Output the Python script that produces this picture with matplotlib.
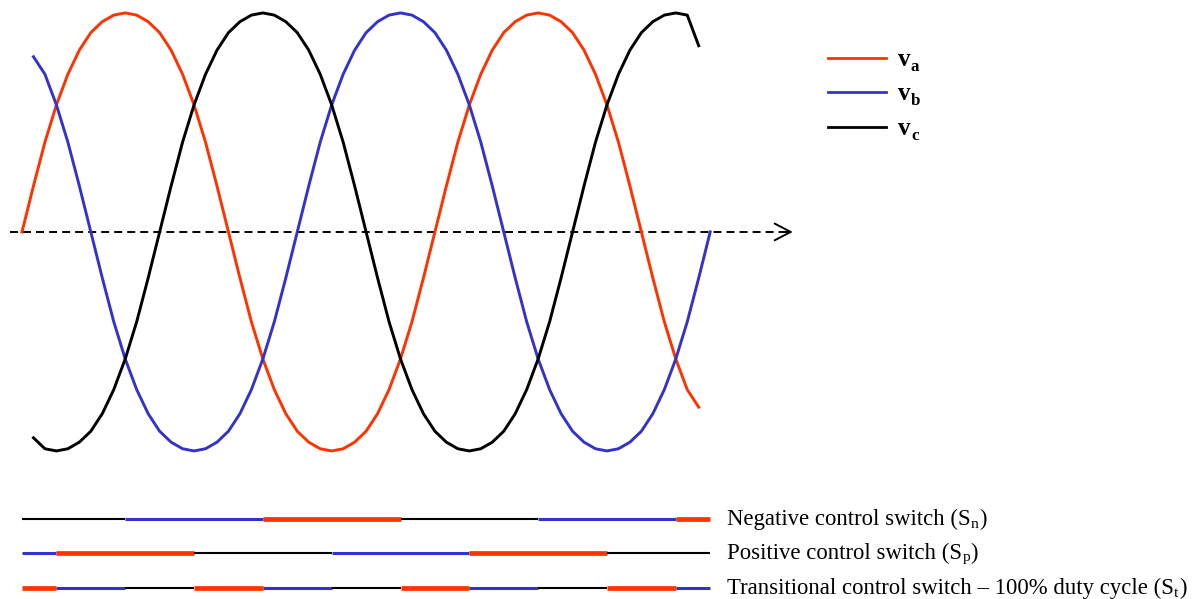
import numpy as np
import matplotlib.pyplot as plt

plt.rcParams['font.family'] = 'Liberation Serif'

RED = '#ff3300'
BLUE = '#3333cc'
BLACK = '#000000'

# phase voltages in per unit, sampled every 10 electrical degrees
theta_a = np.arange(0, 600, 10)
v_a = [0, .21, .41, .58, .72, .83, .91, .96, .99, 1, .99, .96, .91, .83, .72, .58, .41, .21,
       0, -.21, -.41, -.58, -.72, -.83, -.91, -.96, -.99, -1, -.99, -.96, -.91, -.83, -.72, -.58, -.41, -.21,
       0, .21, .41, .58, .72, .83, .91, .96, .99, 1, .99, .96, .91, .83, .72, .58, .41, .21,
       0, -.21, -.41, -.58, -.72, -.80]

theta_b = np.arange(10, 610, 10)
v_b = [.80, .72, .58, .41, .21,
       0, -.21, -.41, -.58, -.72, -.83, -.91, -.96, -.99, -1, -.99, -.96, -.91, -.83, -.72, -.58, -.41, -.21,
       0, .21, .41, .58, .72, .83, .91, .96, .99, 1, .99, .96, .91, .83, .72, .58, .41, .21,
       0, -.21, -.41, -.58, -.72, -.83, -.91, -.96, -.99, -1, -.99, -.96, -.91, -.83, -.72, -.58, -.41, -.21,
       0]

theta_c = np.arange(10, 600, 10)
v_c = [-.94, -.99, -1, -.99, -.96, -.91, -.83, -.72, -.58, -.41, -.21,
       0, .21, .41, .58, .72, .83, .91, .96, .99, 1, .99, .96, .91, .83, .72, .58, .41, .21,
       0, -.21, -.41, -.58, -.72, -.83, -.91, -.96, -.99, -1, -.99, -.96, -.91, -.83, -.72, -.58, -.41, -.21,
       0, .21, .41, .58, .72, .83, .91, .96, .99, 1, .99, .85]

# which phase each switch follows: (start deg, end deg, phase)
sn_segments = [(0, 90, 'c'), (90, 210, 'b'), (210, 330, 'a'), (330, 450, 'c'),
               (450, 570, 'b'), (570, 600, 'a')]
sp_segments = [(0, 30, 'b'), (30, 150, 'a'), (150, 270, 'c'), (270, 390, 'b'),
               (390, 510, 'a'), (510, 600, 'c')]
st_segments = [(0, 30, 'a'), (30, 90, 'b'), (90, 150, 'c'), (150, 210, 'a'),
               (210, 270, 'b'), (270, 330, 'c'), (330, 390, 'a'), (390, 450, 'b'),
               (450, 510, 'c'), (510, 570, 'a'), (570, 600, 'b')]

switch_labels = ['Negative control switch (S',
                 'Positive control switch (S',
                 'Transitional control switch – 100% duty cycle (S']
switch_subs = ['n', 'p', 't']

phase_color = {'a': RED, 'b': BLUE, 'c': BLACK}
phase_width = {'a': 3.4, 'b': 2.2, 'c': 1.5}

fig = plt.figure(figsize=(12.02, 5.99), dpi=100)
ax = fig.add_axes([0, 0, 1, 1])
ax.set_xlim(-19.18, 1028.77)
ax.set_ylim(-1.676, 1.059)
ax.axis('off')
renderer = fig.canvas.get_renderer()

# time axis with open arrow head
ax.plot([-10.5, 670], [0, 0], color=BLACK, lw=1.4, dashes=(4.1, 2.6))
ax.annotate('', xy=(672, 0), xytext=(664, 0),
            arrowprops=dict(arrowstyle='->,head_length=1.15,head_width=0.6',
                            lw=1.4, color=BLACK, mutation_scale=10,
                            shrinkA=0, shrinkB=0))

ax.plot(theta_a, v_a, color=RED, lw=2.1)
ax.plot(theta_b, v_b, color=BLUE, lw=2.1)
ax.plot(theta_c, v_c, color=BLACK, lw=2.1)


def label_with_sub(x, y, main, sub, size, weight='normal', drop=2.0, close=True):
    # main text, then a small lowered subscript and optional closing bracket
    t = ax.text(x, y, main, fontsize=size, fontweight=weight, va='baseline', ha='left')
    w = t.get_window_extent(renderer).width * 72 / fig.dpi
    s = ax.annotate(sub, xy=(x, y), xytext=(w + 0.3, -drop), textcoords='offset points',
                    fontsize=size * 0.68, fontweight=weight, va='baseline', ha='left')
    if close:
        ws = s.get_window_extent(renderer).width * 72 / fig.dpi
        ax.annotate(')', xy=(x, y), xytext=(w + ws + 0.6, 0), textcoords='offset points',
                    fontsize=size, fontweight=weight, va='baseline', ha='left')


# legend
legend_y = [0.795, 0.639, 0.479]
for name, col, y in zip(['a', 'b', 'c'], [RED, BLUE, BLACK], legend_y):
    ax.plot([702.7, 753.3], [y, y], color=col, lw=2)
    label_with_sub(763.7, y - 0.036, 'v', name, 18, weight='bold', drop=4.0, close=False)

# switch state rows
row_y = [-1.311, -1.466, -1.626]
for segs, y, label, sub in zip([sn_segments, sp_segments, st_segments], row_y,
                               switch_labels, switch_subs):
    for start, end, ph in segs:
        ax.plot([start, end], [y, y], color=phase_color[ph], lw=phase_width[ph],
                solid_capstyle='butt')
    label_with_sub(614.6, y - 0.026, label, sub, 16.4)

fig.savefig('out.png', dpi=100)
